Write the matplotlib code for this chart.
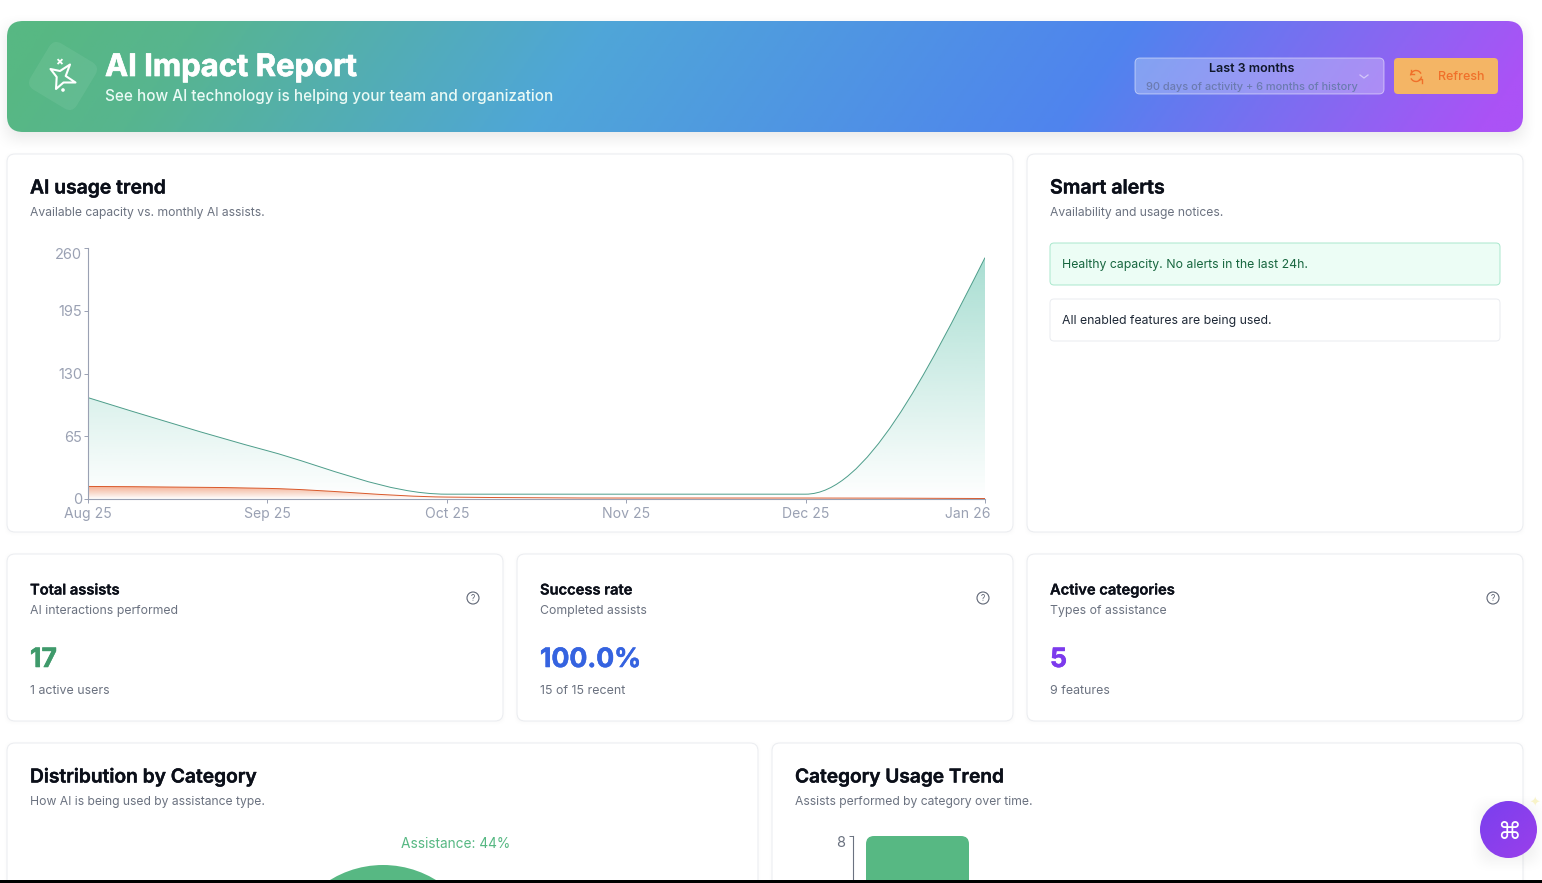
"""
AI Impact Report dashboard rebuilt in matplotlib
"""
import numpy as np
import matplotlib
matplotlib.use("Agg")
import matplotlib.pyplot as plt
import matplotlib.patheffects as pe
from matplotlib.colors import LinearSegmentedColormap, to_rgb
from matplotlib.patches import FancyBboxPatch, Circle, Arc, Polygon, PathPatch
from matplotlib.path import Path
from matplotlib.transforms import Affine2D, ScaledTranslation

W, H = 1542, 883

months = ["Aug 25", "Sep 25", "Oct 25", "Nov 25", "Dec 25", "Jan 26"]
assists = [105, 50, 5, 5, 5, 250]
capacity = [13, 11, 2, 1, 1, 0.5]
trend_ticks = [0, 65, 130, 195, 260]

pie_labels = ["Assistance", "Other"]
pie_values = [44, 56]
bar_categories = ["Assistance"]
bar_values = [8]

GREEN = "#57b883"
BORDER = "#eaecf0"
INK = "#0b0f19"
GREY = "#6b7280"
AXIS = "#9aa1b3"

plt.rcParams["font.family"] = ["Inter", "DejaVu Sans"]

fig = plt.figure(figsize=(W / 100, H / 100), dpi=100, facecolor="white")
bg = fig.add_axes([0, 0, 1, 1], zorder=0)
bg.set_axis_off()


def reset_bg():
    bg.set_aspect("auto")
    bg.set_xlim(0, W)
    bg.set_ylim(H, 0)


def px_axes(left, top, right, bottom, **kw):
    return fig.add_axes([left / W, 1 - bottom / H, (right - left) / W, (bottom - top) / H], **kw)


def txt(x, y, s, size, color=INK, weight="normal", ha="left", heavy=0, **kw):
    # size is in css pixels, y is the baseline
    t = bg.text(x, y, s, fontsize=size * 0.72, color=color, fontweight=weight, ha=ha, va="baseline", **kw)
    if heavy:
        t.set_path_effects([pe.withStroke(linewidth=heavy, foreground=color)])
    return t


def ramp(t):
    t = np.clip(t, 0, 1)
    return t * t * (3 - 2 * t)


def shadow(x0, y0, x1, y1, blur, alpha, dy=0, ax=None):
    pad = blur * 2
    xs = np.arange(x0 - pad, x1 + pad)
    ys = np.arange(y0 - pad, y1 + pad)
    ax_x = ramp((xs - x0 + blur) / (2 * blur)) * ramp((x1 - xs + blur) / (2 * blur))
    ax_y = ramp((ys - y0 - dy + blur) / (2 * blur)) * ramp((y1 + dy - ys + blur) / (2 * blur))
    img = np.zeros((len(ys), len(xs), 4))
    img[..., 3] = alpha * np.outer(ax_y, ax_x)
    (ax or bg).imshow(img, extent=[xs[0], xs[-1], ys[-1], ys[0]], zorder=0.5, interpolation="bilinear")
    reset_bg()


def card(x0, y0, x1, y1, r=8):
    shadow(x0, y0, x1, y1, 5, 0.04, dy=1)
    bg.add_patch(FancyBboxPatch((x0, y0), x1 - x0, y1 - y0, boxstyle=f"round,pad=0,rounding_size={r}",
                                fc="white", ec=BORDER, lw=0.7, zorder=1))


def monotone_path(xs, ys, base=None):
    # d3 curveMonotoneX as cubic beziers
    xs = np.asarray(xs, float)
    ys = np.asarray(ys, float)
    h = np.diff(xs)
    s = np.diff(ys) / h
    t = np.zeros(len(xs))
    for i in range(1, len(xs) - 1):
        p = (s[i - 1] * h[i] + s[i] * h[i - 1]) / (h[i - 1] + h[i])
        t[i] = (np.sign(s[i - 1]) + np.sign(s[i])) * min(abs(s[i - 1]), abs(s[i]), 0.5 * abs(p))
    t[0] = (3 * s[0] - t[1]) / 2
    t[-1] = (3 * s[-1] - t[-2]) / 2
    verts = [(xs[0], ys[0])]
    codes = [Path.MOVETO]
    for i in range(len(h)):
        verts += [(xs[i] + h[i] / 3, ys[i] + h[i] / 3 * t[i]),
                  (xs[i + 1] - h[i] / 3, ys[i + 1] - h[i] / 3 * t[i + 1]),
                  (xs[i + 1], ys[i + 1])]
        codes += [Path.CURVE4] * 3
    if base is not None:
        verts += [(xs[-1], base), (xs[0], base), (xs[0], ys[0])]
        codes += [Path.LINETO, Path.LINETO, Path.CLOSEPOLY]
    return Path(verts, codes)


# header band
shadow(7, 21, 1523, 132, 16, 0.10, dy=6)
stops = [(0.0, "#57b883"), (0.10, "#57b58f"), (0.37, "#4fa6d8"), (0.72, "#4f84ee"), (0.90, "#8a66f2"), (1.0, "#ab52f6")]
head_map = LinearSegmentedColormap.from_list("head", stops)
gx, gy = np.meshgrid(np.linspace(0, 1, 800), np.linspace(0, 1, 60))
head_im = bg.imshow(head_map(np.clip(gx + (gy - 0.5) * 0.05, 0, 1)), extent=[7, 1523, 132, 21], zorder=1)
head_box = FancyBboxPatch((7, 21), 1516, 111, boxstyle="round,pad=0,rounding_size=16", fc="none", ec="none",
                          transform=bg.transData)
bg.add_patch(head_box)
head_im.set_clip_path(head_box)
reset_bg()

# header icon
diamond = FancyBboxPatch((36, 49), 54, 54, boxstyle="round,pad=0,rounding_size=9", fc="white", ec="none",
                         alpha=0.07, zorder=2)
diamond.set_transform(Affine2D().rotate_deg_around(63, 76, 31) + bg.transData)
bg.add_patch(diamond)
star_pts = [(50.5, 69), (60, 71), (70, 64.5), (65.7, 76), (75.5, 82.5), (63.5, 82.5), (56, 89), (56.7, 77)]
bg.add_patch(Polygon(star_pts, closed=True, fc="none", ec="white", lw=1.5, joinstyle="round", zorder=3))
bg.plot([58.2, 61.8], [59.8, 63.4], color="white", lw=1.3, zorder=3)
bg.plot([58.2, 61.8], [63.4, 59.8], color="white", lw=1.3, zorder=3)
bg.add_patch(Circle((63, 90), 1.8, fc="white", ec="none", zorder=3))
reset_bg()

txt(105, 76, "AI Impact Report", 31, "white", "bold", heavy=0.5, zorder=3)
txt(105, 101, "See how AI technology is helping your team and organization", 15.32, "#eafaf5", "medium", zorder=3)

# period select
bg.add_patch(FancyBboxPatch((1135, 58), 249, 36, boxstyle="round,pad=0,rounding_size=5",
                            fc=(1, 1, 1, 0.27), ec=(1, 1, 1, 0.5), lw=0.7, zorder=2))
txt(1252, 72, "Last 3 months", 12.5, "#0f172a", "semibold", ha="center", zorder=3)
txt(1252, 90, "90 days of activity + 6 months of history", 11, "#6b7bb0", "medium", ha="center", zorder=3)
bg.plot([1360, 1364, 1368], [75, 78, 75], color=(1, 1, 1, 0.5), lw=0.9, zorder=3)

# refresh button
bg.add_patch(FancyBboxPatch((1394, 58), 104, 36, boxstyle="round,pad=0,rounding_size=4", fc="#f4b565", ec="none", zorder=2))
bg.add_patch(Arc((1416, 76), 11, 11, theta1=185, theta2=335, color="#f0702a", lw=1.0, zorder=3))
bg.add_patch(Arc((1416, 76), 11, 11, theta1=5, theta2=155, color="#f0702a", lw=1.0, zorder=3))
bg.plot([1410.5, 1410.5, 1413.5], [69.5, 73.5, 73.5], color="#f0702a", lw=1.0, zorder=3)
bg.plot([1421.5, 1421.5, 1418.5], [82.5, 78.5, 78.5], color="#f0702a", lw=1.0, zorder=3)
txt(1461, 80, "Refresh", 12.5, "#f0702a", "medium", ha="center", zorder=3)

# upper cards
card(7, 154, 1013, 532)
card(1027, 154, 1523, 532)
txt(30, 193.5, "AI usage trend", 19.3, INK, "semibold", heavy=0.3, zorder=3)
txt(30, 216, "Available capacity vs. monthly AI assists.", 12.15, GREY, zorder=3)
txt(1050, 193.5, "Smart alerts", 19.6, INK, "semibold", heavy=0.3, zorder=3)
txt(1050, 216, "Availability and usage notices.", 12.15, GREY, zorder=3)

bg.add_patch(FancyBboxPatch((1050, 243), 450, 42, boxstyle="round,pad=0,rounding_size=4", fc="#ecfdf5", ec="#a9e8cd", lw=0.7, zorder=2))
txt(1062, 268, "Healthy capacity. No alerts in the last 24h.", 12.25, "#17663f", zorder=3)
bg.add_patch(FancyBboxPatch((1050, 299), 450, 42, boxstyle="round,pad=0,rounding_size=4", fc="white", ec=BORDER, lw=0.7, zorder=2))
txt(1062, 324, "All enabled features are being used.", 12.25, "#1f2937", zorder=3)

# stat cards
stat_left = [7, 517, 1027]
stat_titles = ["Total assists", "Success rate", "Active categories"]
stat_subs = ["AI interactions performed", "Completed assists", "Types of assistance"]
stat_values = ["17", "100.0%", "5"]
stat_colors = ["#3f9a6b", "#3563e0", "#7c3aed"]
stat_notes = ["1 active users", "15 of 15 recent", "9 features"]
for left, title, sub, value, col, note in zip(stat_left, stat_titles, stat_subs, stat_values, stat_colors, stat_notes):
    card(left, 554, left + 496, 721)
    txt(left + 23, 594.5, title, 14.7, INK, "semibold", heavy=0.2, zorder=3)
    txt(left + 23, 614, sub, 12.25, GREY, zorder=3)
    txt(left + 23, 667, value, 26.6, col, "bold", heavy=0.4, zorder=3)
    txt(left + 23, 694, note, 12.4, GREY, zorder=3)
    bg.add_patch(Circle((left + 466, 598), 6, fc="none", ec="#5f6675", lw=0.8, zorder=3))
    txt(left + 466, 601, "?", 8.5, "#5f6675", ha="center", zorder=3)

# lower cards, cut off by the window edge
card(7, 743, 758, 900)
card(772, 743, 1523, 900)
txt(30, 782.5, "Distribution by Category", 19.2, INK, "semibold", heavy=0.3, zorder=3)
txt(30, 805, "How AI is being used by assistance type.", 12.15, GREY, zorder=3)
txt(795, 782.5, "Category Usage Trend", 19.1, INK, "semibold", heavy=0.3, zorder=3)
txt(795, 805, "Assists performed by category over time.", 12.15, GREY, zorder=3)
txt(456, 848, f"{pie_labels[0]}: {pie_values[0]}%", 13.7, GREEN, ha="center", zorder=3)
reset_bg()

# trend chart
ax = px_axes(88, 248, 985, 499, zorder=2)
ax.patch.set_alpha(0)
x_pos = np.arange(len(months))


def area(values, color, line, top_alpha):
    fill_path = monotone_path(x_pos, values, base=0)
    vmax = max(values)
    img = np.zeros((256, 2, 4))
    img[..., :3] = to_rgb(color)
    img[..., 3] = (top_alpha * np.linspace(1, 0, 256))[:, None]
    im = ax.imshow(img, extent=[0, 5, 0, vmax], aspect="auto", origin="upper", zorder=1)
    im.set_clip_path(PathPatch(fill_path, transform=ax.transData))
    ax.add_patch(PathPatch(monotone_path(x_pos, values), fc="none", ec=line, lw=0.7, zorder=2))


area(assists, "#52bda5", "#4d9d8a", 0.5)
area(capacity, "#f0703c", "#d9592b", 0.55)
ax.set_xlim(0, 5)
ax.set_ylim(0, 260)
ax.set_xticks(x_pos, months)
ax.set_yticks(trend_ticks, [str(v) for v in trend_ticks])
ax.spines[["top", "right"]].set_visible(False)
ax.spines[["left", "bottom"]].set_color(AXIS)
ax.spines[["left", "bottom"]].set_linewidth(0.8)
ax.tick_params(axis="both", color=AXIS, labelcolor=AXIS, width=0.7, length=3)
ax.tick_params(axis="x", labelsize=10.1, pad=2.6)
ax.tick_params(axis="y", labelsize=10.5, pad=1.4)
ax.get_yticklabels()[-1].set_va("top")
last = ax.get_xticklabels()[-1]
last.set_ha("right")
last.set_transform(last.get_transform() + ScaledTranslation(5 / 100, 0, fig.dpi_scale_trans))

# pie, only its top shows above the fold
pie_ax = px_axes(282, 865, 484, 1067, zorder=2)
pie_ax.pie(pie_values, colors=[GREEN, "none"], startangle=90 - pie_values[0] * 1.8, radius=1)
pie_ax.set_xlim(-1, 1)
pie_ax.set_ylim(-1, 1)

# category bars, same story
bar_ax = px_axes(853, 836, 1500, 1086, zorder=2)
bar_ax.patch.set_alpha(0)
bar_px = 103
bar_ax.set_xlim(-(13 + bar_px / 2) / bar_px, (1500 - 853 - 13 - bar_px / 2) / bar_px)
bar_ax.set_ylim(0, 8)
rects = bar_ax.bar(range(len(bar_categories)), bar_values, width=1.0, color=GREEN)
for rect in rects:
    rect.set_visible(False)
    y_per_px = 8 / 250
    x_per_px = 1 / bar_px
    bar_ax.add_patch(FancyBboxPatch((rect.get_x(), rect.get_y()), rect.get_width(), rect.get_height(),
                                    boxstyle=f"round,pad=0,rounding_size={8 * x_per_px}",
                                    mutation_aspect=y_per_px / x_per_px, fc=GREEN, ec="none"))
bar_ax.set_xticks([])
bar_ax.set_yticks([8], ["8"])
bar_ax.get_yticklabels()[0].set_va("top")
bar_ax.spines[["top", "right", "bottom"]].set_visible(False)
bar_ax.spines["left"].set_color("#6b7280")
bar_ax.spines["left"].set_linewidth(0.8)
bar_ax.tick_params(axis="y", color="#6b7280", labelcolor="#6b7280", labelsize=10.5, width=0.7, length=3, pad=2.4)

# overlay: floating button and the black strip along the bottom
top = fig.add_axes([0, 0, 1, 1], zorder=5)
top.set_axis_off()
top.patch.set_alpha(0)
shadow(1480, 801, 1537, 858, 14, 0.06, dy=4, ax=top)
fab_map = LinearSegmentedColormap.from_list("fab", ["#7a3fef", "#9a3fea"])
fx, fy = np.meshgrid(np.linspace(0, 1, 60), np.linspace(0, 1, 60))
fab = top.imshow(fab_map((fx + fy) / 2), extent=[1480, 1537, 858, 801], zorder=3, aspect="auto")
fab_clip = Circle((1508.5, 829.5), 28.5, transform=top.transData, fc="none", ec="none")
top.add_patch(fab_clip)
fab.set_clip_path(fab_clip)
top.set_aspect("auto")
top.set_xlim(0, W)
top.set_ylim(H, 0)
top.text(1508.5, 832, "\u2318", fontsize=17, color="white", ha="center", va="center",
         family="DejaVu Sans", zorder=4)
top.text(1535, 803, "\u2726", fontsize=9, color="#f8f3c8", ha="center", va="center", family="DejaVu Sans", zorder=2)
top.fill_between([0, W], [880, 880], [H, H], color="black", lw=0, zorder=6)

fig.savefig("out.png", dpi=100)
